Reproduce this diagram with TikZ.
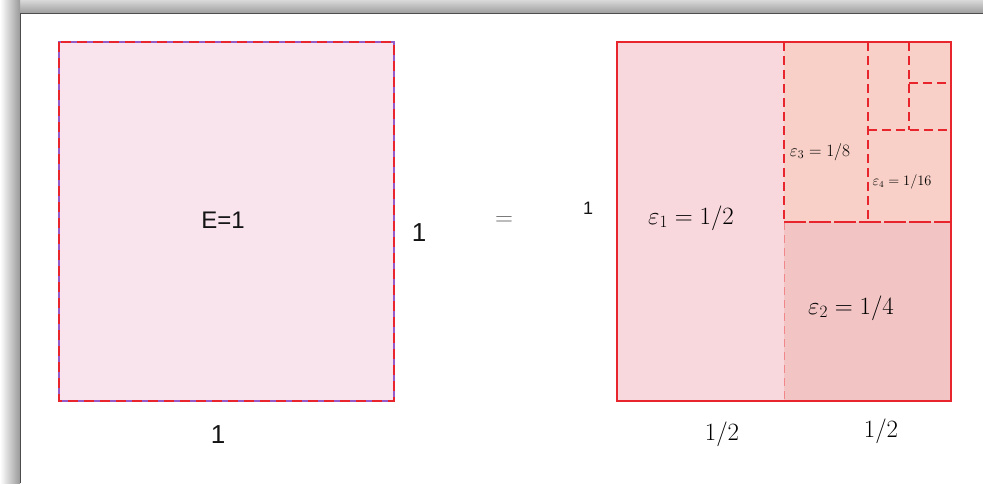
\documentclass[tikz,border=0pt]{standalone}
\usepackage{fontspec}
\newfontfamily\arial{Liberation Sans}
\definecolor{leftfill}{RGB}{249,227,237}
\definecolor{epsA}{RGB}{249,216,221}
\definecolor{epsB}{RGB}{242,196,196}
\definecolor{epsC}{RGB}{248,208,199}
\definecolor{redline}{RGB}{232,36,44}
\definecolor{violetline}{RGB}{150,90,200}
\tikzset{
  sanslabel/.style={font=\arial\fontsize{26}{30}\selectfont, text=black!92, inner sep=0pt},
  mathlabel/.style={inner sep=0pt, text=black},
  outerred/.style={draw=redline, line width=1.6pt},
  dashred/.style={draw=redline, line width=1.5pt, dash pattern=on 9pt off 5pt},
  lightdash/.style={draw=redline!55, line width=0.8pt, dash pattern=on 8pt off 5pt},
}
\begin{document}
\begin{tikzpicture}[x=1pt,y=-1pt]
\useasboundingbox (0,0) rectangle (983,483);
% frame shadow
\shade[top color=black!15, bottom color=black!38] (0,0) rectangle (983,13);
\shade[left color=white, right color=black!40] (0,0) rectangle (20,483);
\fill[white] (20,13) rectangle (983,483);
\draw[black!70, line width=1pt] (20,483) -- (20,13) -- (983,13);

% left square
\coordinate (L1) at (59,42);
\coordinate (L2) at (394,401);
\fill[leftfill] (L1) rectangle (L2);
\draw[violetline, line width=1.4pt] (L1) rectangle (L2);
\draw[redline, line width=1.4pt, dash pattern=on 10pt off 6pt] (L1) rectangle (L2);
\node[sanslabel, font=\arial\fontsize{24}{28}\selectfont] (E) at (223,220) {E=1};
\node[sanslabel] (bottom1) at (218,435) {1};
\node[sanslabel] (side1) at (419,233) {1};
\node[mathlabel, font=\fontsize{33}{36}\selectfont, text=black!60] (eq) at (504,221) {$=$};
\node[sanslabel, font=\arial\fontsize{18}{22}\selectfont] (small1) at (588,208) {1};

% right square
\coordinate (R1) at (617,42);
\coordinate (R2) at (951,401);
\fill[epsA] (617,42) rectangle (784,401);
\fill[epsB] (784,222) rectangle (951,401);
\fill[epsC] (784,42) rectangle (951,222);
% inner dividers
\draw[lightdash] (784,222) -- (784,401);
\draw[dashred] (784,42) -- (784,222);
\draw[redline, line width=1.5pt, dash pattern=on 22pt off 3pt] (784,222) -- (951,222);
\draw[dashred] (868,42) -- (868,222);
\draw[dashred] (868,130) -- (951,130);
\draw[dashred] (909,42) -- (909,130);
\draw[dashred] (909,83) -- (951,83);
\draw[outerred] (R1) rectangle (R2);

\node[mathlabel, font=\fontsize{24}{28}\selectfont] (e1) at (691,218) {$\varepsilon_1 = 1/2$};
\node[mathlabel, font=\fontsize{24}{28}\selectfont] (e2) at (851,308) {$\varepsilon_2 = 1/4$};
\node[mathlabel, font=\fontsize{17}{20}\selectfont] (e3) at (820,152) {$\varepsilon_3 = 1/8$};
\node[mathlabel, font=\fontsize{13.5}{16}\selectfont] (e4) at (902,182) {$\varepsilon_4 = 1/16$};
\node[mathlabel, font=\fontsize{24}{28}\selectfont] (h1) at (722,434) {$1/2$};
\node[mathlabel, font=\fontsize{24}{28}\selectfont] (h2) at (881,431) {$1/2$};
\end{tikzpicture}
\end{document}
